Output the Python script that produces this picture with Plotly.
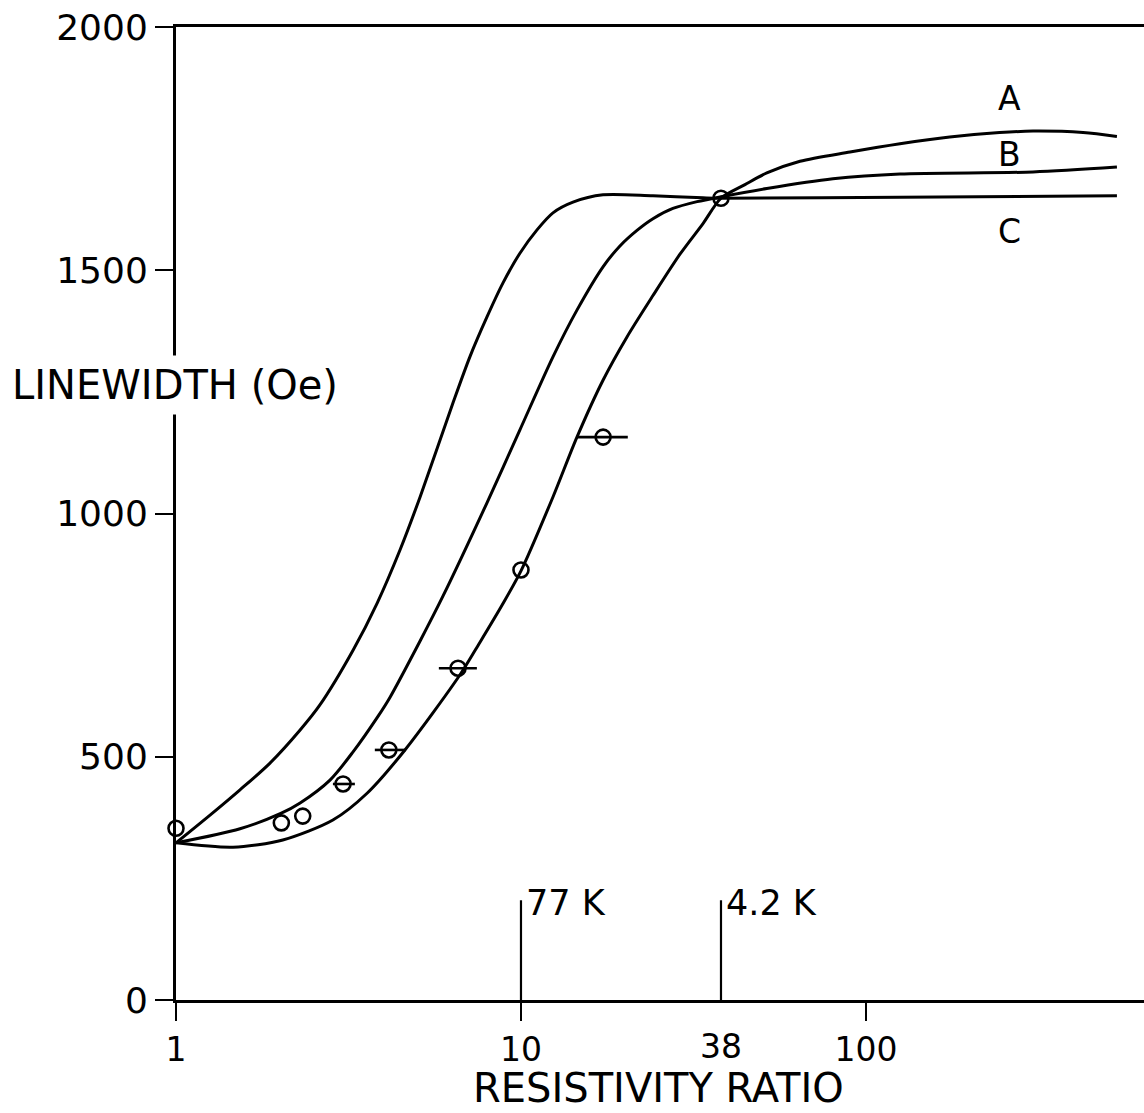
import math
import plotly.graph_objects as go

# ---- data ----
curve_a_x = [1.00, 1.463, 2.04, 2.85, 3.58, 4.61, 6.65, 7.60, 8.87, 10.0, 12.38, 14.53, 17.29,
             20.29, 24.13, 28.9, 33.7, 38.0, 44.6, 51.6, 64.4, 89.9, 125.5, 175, 244, 305, 426, 534]
curve_a_y = [323, 314, 329, 370, 425, 514, 668, 735, 815, 882, 1034, 1157, 1274,
             1363, 1448, 1533, 1596, 1648, 1676, 1700, 1724, 1743, 1760, 1774, 1783, 1786, 1783, 1775]

curve_b_x = [1.00, 1.533, 2.02, 2.29, 2.795, 3.26, 3.85, 4.17, 5.10, 5.94, 7.97, 9.93, 12.38, 14.53,
             17.29, 19.36, 21.69, 24.13, 27.57, 32.4, 38.0, 51.6, 80.2, 125.5, 305, 534]
curve_b_y = [323, 352, 384, 405, 452, 510, 583, 622, 738, 830, 1022, 1172, 1322, 1418,
             1507, 1550, 1582, 1606, 1627, 1641, 1651, 1668, 1688, 1698, 1702, 1712]

curve_c_x = [1.00, 1.255, 1.533, 1.873, 2.29, 2.61, 3.26, 3.83, 4.46, 5.10, 6.35, 7.11, 7.97,
             8.87, 9.93, 11.13, 12.38, 14.15, 17.29, 24.13, 33.7, 38.0, 125.5, 534]
curve_c_y = [323, 380, 432, 487, 555, 606, 719, 816, 925, 1034, 1227, 1322, 1404,
             1474, 1535, 1583, 1618, 1640, 1655, 1653, 1649, 1648, 1650, 1653]

data_x = [1.00, 2.02, 2.33, 3.05, 4.14, 6.57, 10.0, 17.3, 38.0]
data_y = [353, 364, 378, 444, 514, 682, 884, 1157, 1648]
err_plus = [0, 0, 0, 0.25, 0.50, 0.88, 0, 3.1, 0]
err_minus = [0, 0, 0, 0.20, 0.37, 0.79, 0, 2.7, 0]

x_tick_vals = [1, 10, 100]
x_tick_text = ["1", "10", "100"]
y_tick_vals = [0, 500, 1000, 1500, 2000]
extra_x_label = 38

markers = [(10, "77 K", 205), (38, "4.2 K", 205)]
curve_labels = [("A", 261, 1854), ("B", 261, 1737), ("C", 261, 1579)]

FONT = "DejaVu Sans"
LW = 3

fig = go.Figure()
for cx, cy in [(curve_a_x, curve_a_y), (curve_b_x, curve_b_y), (curve_c_x, curve_c_y)]:
    fig.add_trace(go.Scatter(x=cx, y=cy, mode="lines",
                             line=dict(color="black", width=LW, shape="spline", smoothing=0.8),
                             showlegend=False, hoverinfo="skip"))

fig.add_trace(go.Scatter(
    x=data_x, y=data_y, mode="markers", cliponaxis=False,
    marker=dict(symbol="circle-open", size=15, color="black", line=dict(width=2.6, color="black")),
    error_x=dict(type="data", symmetric=False, array=err_plus, arrayminus=err_minus,
                 color="black", thickness=2.6, width=0),
    showlegend=False, hoverinfo="skip"))

shapes = []
annotations = []
for mx, txt, top in markers:
    shapes.append(dict(type="line", xref="x", yref="y", x0=mx, x1=mx, y0=0, y1=top,
                       line=dict(color="black", width=2.2)))
    annotations.append(dict(x=math.log10(mx), y=top - 6, xref="x", yref="y", text=txt, showarrow=False,
                            xanchor="left", yanchor="middle", xshift=3,
                            font=dict(family=FONT, size=35, color="black")))

for lab, lx, ly in curve_labels:
    annotations.append(dict(x=math.log10(lx), y=ly, xref="x", yref="y", text=lab, showarrow=False,
                            xanchor="center", yanchor="middle",
                            font=dict(family=FONT, size=33, color="black")))

annotations.append(dict(x=math.log10(extra_x_label), y=0, xref="x", yref="paper", text=str(extra_x_label),
                        showarrow=False, xanchor="center", yanchor="middle", yshift=-46,
                        font=dict(family=FONT, size=33, color="black")))

annotations.append(dict(x=0, y=1264, xref="paper", yref="y", text="LINEWIDTH (Oe)",
                        showarrow=False, xanchor="center", yanchor="middle", xshift=-1,
                        bgcolor="white", borderpad=6,
                        font=dict(family=FONT, size=40, color="black")))

annotations.append(dict(x=0.498, y=0, xref="paper", yref="paper", text="RESISTIVITY RATIO",
                        showarrow=False, xanchor="center", yanchor="middle", yshift=-88,
                        font=dict(family=FONT, size=40, color="black")))

fig.update_layout(
    width=1144, height=1113,
    margin=dict(l=176, r=0, t=27, b=113),
    paper_bgcolor="white", plot_bgcolor="white",
    shapes=shapes, annotations=annotations,
    font=dict(family=FONT, color="black"),
    xaxis=dict(type="log", range=[0, 2.806], tickvals=x_tick_vals, ticktext=x_tick_text,
               showgrid=False, zeroline=False, showline=True, linecolor="black", linewidth=LW,
               mirror=True, ticks="outside", ticklen=18, tickwidth=2.4, tickcolor="black",
               tickfont=dict(family=FONT, size=33, color="black")),
    yaxis=dict(range=[0, 2000], tickvals=y_tick_vals,
               showgrid=False, zeroline=False, showline=True, linecolor="black", linewidth=LW,
               ticks="outside", ticklen=18, tickwidth=2.4, tickcolor="black",
               tickfont=dict(family=FONT, size=36, color="black")),
)

fig.write_html("out.html")
